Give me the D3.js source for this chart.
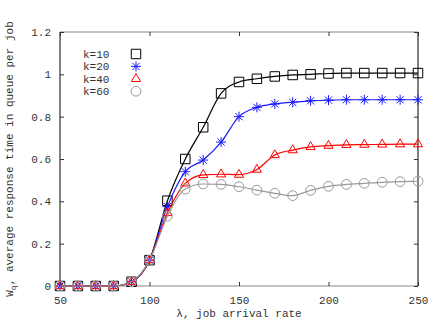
<!DOCTYPE html>
<html>
<head>
<meta charset="utf-8">
<script src="https://d3js.org/d3.v7.min.js"></script>
<style>
  body { margin: 0; background: #fff; }
  svg text { font-family: "Liberation Mono", "DejaVu Sans Mono", monospace; font-size: 11px; fill: #333; }
</style>
</head>
<body>
<div id="chart"></div>
<script>
var lambda = [50, 60, 70, 80, 90, 100, 110, 120, 130, 140, 150, 160, 170, 180, 190, 200, 210, 220, 230, 240, 250];
var k10 = [0, 0, 0, 0, 0.02, 0.122, 0.403, 0.60, 0.75, 0.91, 0.964, 0.979, 0.99, 0.997, 1.0, 1.004, 1.006, 1.006, 1.006, 1.006, 1.006];
var k20 = [0, 0, 0, 0, 0.02, 0.122, 0.375, 0.54, 0.595, 0.68, 0.80, 0.844, 0.86, 0.868, 0.875, 0.878, 0.88, 0.88, 0.88, 0.88, 0.88];
var k40 = [0, 0, 0, 0, 0.02, 0.122, 0.345, 0.485, 0.525, 0.528, 0.526, 0.55, 0.619, 0.642, 0.657, 0.663, 0.667, 0.668, 0.669, 0.67, 0.67];
var k60 = [0, 0, 0, 0, 0.02, 0.122, 0.33, 0.458, 0.482, 0.48, 0.469, 0.453, 0.438, 0.427, 0.452, 0.471, 0.48, 0.485, 0.49, 0.493, 0.495];
var xTicks = [50, 100, 150, 200, 250];
var yTicks = [0, 0.2, 0.4, 0.6, 0.8, 1, 1.2];

var series = [
  { name: "k=10", values: k10, color: "#000000", marker: "square" },
  { name: "k=20", values: k20, color: "#1a1aff", marker: "star" },
  { name: "k=40", values: k40, color: "#ff0000", marker: "triangle" },
  { name: "k=60", values: k60, color: "#999999", marker: "circle" }
];

var W = 436, H = 324;
var pL = 60, pR = 418, pT = 32, pB = 286;

var svg = d3.select("#chart").append("svg")
  .attr("width", W).attr("height", H);

var x = d3.scaleLinear().domain([50, 250]).range([pL, pR]);
var y = d3.scaleLinear().domain([0, 1.2]).range([pB, pT]);

// frame
svg.append("line").attr("x1", pL).attr("x2", pR).attr("y1", pT).attr("y2", pT)
  .attr("stroke", "#888").attr("stroke-width", 1.2);
svg.append("line").attr("x1", pL).attr("x2", pR).attr("y1", pB).attr("y2", pB)
  .attr("stroke", "#888").attr("stroke-width", 1.2);
svg.append("line").attr("x1", pL).attr("x2", pL).attr("y1", pT).attr("y2", pB)
  .attr("stroke", "#000").attr("stroke-width", 1);
svg.append("line").attr("x1", pR).attr("x2", pR).attr("y1", pT).attr("y2", pB)
  .attr("stroke", "#000").attr("stroke-width", 1);

// axes with inward ticks
var xAxis = svg.append("g").attr("transform", "translate(0," + pB + ")")
  .call(d3.axisBottom(x).tickValues(xTicks).tickSize(-4).tickPadding(10).tickFormat(d3.format("d")));
var xTop = svg.append("g").attr("transform", "translate(0," + pT + ")")
  .call(d3.axisTop(x).tickValues(xTicks).tickSize(-4).tickFormat(""));
var yAxis = svg.append("g").attr("transform", "translate(" + pL + ",0)")
  .call(d3.axisLeft(y).tickValues(yTicks).tickSize(-4).tickPadding(9).tickFormat(function(d) { return String(+d.toFixed(1)); }));
var yRight = svg.append("g").attr("transform", "translate(" + pR + ",0)")
  .call(d3.axisRight(y).tickValues(yTicks).tickSize(-4).tickFormat(""));

[xAxis, xTop, yAxis, yRight].forEach(function(g) {
  g.select(".domain").remove();
  g.selectAll(".tick line").attr("stroke", "#333");
  g.selectAll("text").attr("fill", "#333").style("font-size", "11px")
    .style("font-family", '"Liberation Mono", monospace');
});

// gnuplot-like star: plus and cross
var starPath = function() {
  var r = 5, d = 3.6;
  return "M0," + (-r) + "V" + r + "M" + (-r) + ",0H" + r +
    "M" + (-d) + "," + (-d) + "L" + d + "," + d +
    "M" + (-d) + "," + d + "L" + d + "," + (-d);
};

// marker symbols
var symbolOf = {
  square: d3.symbol().type(d3.symbolSquare).size(90),
  star: starPath,
  triangle: d3.symbol().type(d3.symbolTriangle2).size(60),
  circle: d3.symbol().type(d3.symbolCircle).size(75)
};

var line = d3.line()
  .x(function(d) { return x(d[0]); })
  .y(function(d) { return y(d[1]); })
  .curve(d3.curveMonotoneX);

series.forEach(function(s) {
  var pts = lambda.map(function(l, i) { return [l, s.values[i]]; });
  var g = svg.append("g");
  g.append("path").datum(pts)
    .attr("d", line)
    .attr("fill", "none")
    .attr("stroke", s.color)
    .attr("stroke-width", 1.2);
  g.selectAll("path.m").data(pts).enter().append("path")
    .attr("class", "m")
    .attr("d", symbolOf[s.marker])
    .attr("transform", function(d) { return "translate(" + x(d[0]) + "," + y(d[1]) + ")"; })
    .attr("fill", "none")
    .attr("stroke", s.color)
    .attr("stroke-width", 1);
});

// legend
var leg = svg.append("g");
series.forEach(function(s, i) {
  var ly = 54 + i * 12.4;
  leg.append("text").attr("x", 83).attr("y", ly + 4).text(s.name).attr("fill", "#333");
  leg.append("path")
    .attr("d", symbolOf[s.marker])
    .attr("transform", "translate(136," + ly + ")")
    .attr("fill", "none").attr("stroke", s.color).attr("stroke-width", 1);
});

// axis labels
svg.append("text")
  .attr("x", x(150)).attr("y", 317)
  .attr("text-anchor", "middle")
  .text("\u03bb, job arrival rate");

var yl = svg.append("text")
  .attr("transform", "translate(13," + ((pT + pB) / 2) + ") rotate(-90)")
  .attr("text-anchor", "middle");
yl.append("tspan").text("W");
yl.append("tspan").attr("dy", 3).style("font-size", "8px").text("q");
yl.append("tspan").attr("dy", -3).text(", average response time in queue per job");
</script>
</body>
</html>
